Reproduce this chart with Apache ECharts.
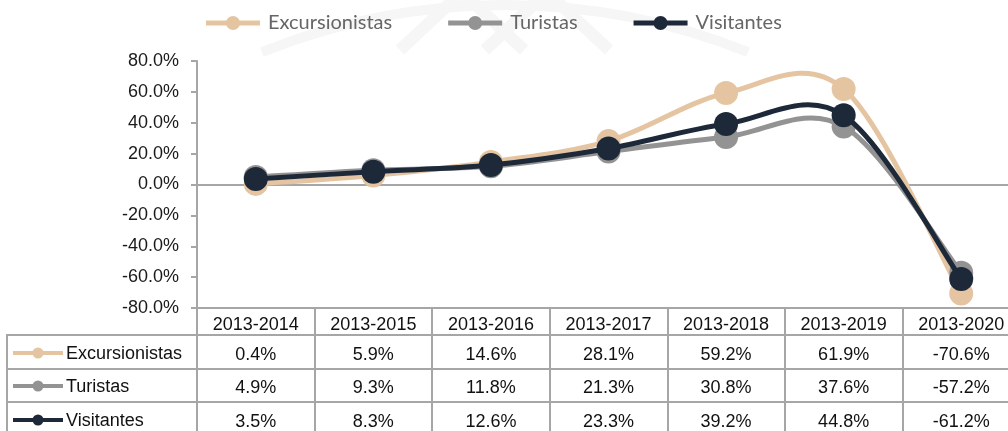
<!DOCTYPE html>
<html>
<head>
<meta charset="utf-8">
<script src="https://cdn.jsdelivr.net/npm/echarts@6/dist/echarts.min.js"></script>
<style>
html,body{margin:0;padding:0;background:#fff;}
#c{width:1008px;height:431px;}
</style>
</head>
<body>
<div id="c"></div>
<script>
const categories = ['2013-2014','2013-2015','2013-2016','2013-2017','2013-2018','2013-2019','2013-2020'];
const excursionistas = [0.4, 5.9, 14.6, 28.1, 59.2, 61.9, -70.6];
const turistas = [4.9, 9.3, 11.8, 21.3, 30.8, 37.6, -57.2];
const visitantes = [3.5, 8.3, 12.6, 23.3, 39.2, 44.8, -61.2];
const yTicks = [-80, -60, -40, -20, 0, 20, 40, 60, 80];

const names = ['Excursionistas', 'Turistas', 'Visitantes'];
const colors = ['#e5c5a1', '#939393', '#1d2939'];
const seriesData = [excursionistas, turistas, visitantes];

const GRID_LEFT = 197, GRID_TOP = 61, GRID_BOTTOM_Y = 308;
const GRAY = '#a6a6a6';
const FONT = '"Liberation Sans", Arial, sans-serif';

const chart = echarts.init(document.getElementById('c'), null, {renderer: 'canvas'});

function fmt(v) { return v.toFixed(1) + '%'; }

const rowMargins = [47, 80, 114];

const xAxes = [
  {
    type: 'category', data: categories, position: 'bottom', gridIndex: 0,
    axisLine: {show: true, onZero: false, lineStyle: {color: GRAY, width: 2}},
    axisTick: {show: true, inside: false, length: 130, lineStyle: {color: GRAY, width: 2}},
    axisLabel: {show: true, interval: 0, margin: 17, verticalAlign: 'middle', color: '#111', fontSize: 18, fontFamily: FONT},
    splitLine: {show: false}
  },
  {
    type: 'category', data: categories, position: 'bottom', gridIndex: 0,
    axisLine: {show: true, onZero: true, lineStyle: {color: GRAY, width: 2}},
    axisTick: {show: false}, axisLabel: {show: false}, splitLine: {show: false}
  }
];
seriesData.forEach((arr, k) => {
  xAxes.push({
    type: 'category', data: categories, position: 'bottom', gridIndex: 0,
    axisLine: {show: false, onZero: false}, axisTick: {show: false}, splitLine: {show: false},
    axisLabel: {
      show: true, interval: 0, margin: rowMargins[k], verticalAlign: 'middle',
      color: '#111', fontSize: 18, fontFamily: FONT,
      formatter: (v, i) => fmt(arr[i])
    }
  });
});

const graphics = [];
// faint watermark near the top
const WM = '#f6f6f6';
graphics.push({type: 'arc', shape: {cx: 505, cy: 655, r: 650, startAngle: Math.PI * 1.378, endAngle: Math.PI * 1.622}, style: {stroke: WM, lineWidth: 10, fill: null}, silent: true, z: -10});
graphics.push({type: 'polyline', shape: {points: [[400, 50], [462, -8], [524, 50]]}, style: {stroke: WM, lineWidth: 12, fill: null}, silent: true, z: -10});
graphics.push({type: 'polyline', shape: {points: [[485, 50], [547, -8], [609, 50]]}, style: {stroke: WM, lineWidth: 12, fill: null}, silent: true, z: -10});
// table horizontal lines
[335, 369, 402].forEach(y => {
  graphics.push({type: 'line', shape: {x1: 6, y1: y, x2: 1008, y2: y}, style: {stroke: GRAY, lineWidth: 2}, silent: true});
});
graphics.push({type: 'line', shape: {x1: 7, y1: 335, x2: 7, y2: 431}, style: {stroke: GRAY, lineWidth: 2}, silent: true});
// row keys
const rowCenters = [353, 386, 420];
names.forEach((n, k) => {
  const cy = rowCenters[k];
  graphics.push({type: 'line', shape: {x1: 13, y1: cy, x2: 63, y2: cy}, style: {stroke: colors[k], lineWidth: 4}, silent: true});
  graphics.push({type: 'circle', shape: {cx: 38, cy: cy, r: 5.5}, style: {fill: colors[k]}, silent: true});
  graphics.push({type: 'text', x: 66, y: cy + 1, style: {text: n, fill: '#111', fontSize: 18, fontFamily: FONT, verticalAlign: 'middle', align: 'left'}, silent: true});
});

// legend icon: thick line with circle
const legendIcon = 'path://M0,4.5 L54,4.5 L54,9.5 L0,9.5 Z M20,7 A7,7 0 1,1 34,7 A7,7 0 1,1 20,7 Z';

function makeRender(arr) {
  return function (params, api) {
    const i = params.dataIndex;
    const n = arr.length;
    const P = k => api.coord([Math.max(0, Math.min(n - 1, k)), arr[Math.max(0, Math.min(n - 1, k))]]);
    const color = api.visual('color');
    const children = [];
    if (i < n - 1) {
      const p0 = P(i - 1), p1 = P(i), p2 = P(i + 1), p3 = P(i + 2);
      const c1 = [p1[0] + (p2[0] - p0[0]) / 6, p1[1] + (p2[1] - p0[1]) / 6];
      const c2 = [p2[0] - (p3[0] - p1[0]) / 6, p2[1] - (p3[1] - p1[1]) / 6];
      children.push({
        type: 'bezierCurve',
        shape: {x1: p1[0], y1: p1[1], cpx1: c1[0], cpy1: c1[1], cpx2: c2[0], cpy2: c2[1], x2: p2[0], y2: p2[1]},
        style: {stroke: color, lineWidth: 5, fill: null, lineCap: 'round'}
      });
    }
    if (i > 0) {
      const q = P(i - 1);
      children.push({type: 'circle', shape: {cx: q[0], cy: q[1], r: 12}, style: {fill: color}});
    }
    if (i === n - 1) {
      const q = P(i);
      children.push({type: 'circle', shape: {cx: q[0], cy: q[1], r: 12}, style: {fill: color}});
    }
    return {type: 'group', children: children};
  };
}

const option = {
  animation: false,
  backgroundColor: '#fff',
  grid: {left: GRID_LEFT, top: GRID_TOP, right: -12, bottom: 431 - GRID_BOTTOM_Y, containLabel: false, outerBoundsMode: 'none'},
  legend: {
    left: 201, top: 8, itemWidth: 54, itemHeight: 14, itemGap: 56,
    textStyle: {fontFamily: 'Lato, "Open Sans", sans-serif', fontSize: 20, color: '#666666', padding: [0, 0, 0, 3]},
    data: names.map(n => ({name: n, icon: legendIcon}))
  },
  xAxis: xAxes,
  yAxis: {
    type: 'value', min: -80, max: 80, interval: 20,
    axisLine: {show: true, lineStyle: {color: GRAY, width: 2}},
    axisTick: {show: true, inside: false, length: 6, lineStyle: {color: GRAY, width: 2}},
    axisLabel: {margin: 18, color: '#1a1a1a', fontSize: 18, fontFamily: FONT, formatter: v => yTicks.indexOf(v) >= 0 ? fmt(v) : ''},
    splitLine: {show: false}
  },
  series: names.map((n, k) => ({
    name: n, type: 'custom', xAxisIndex: 0, yAxisIndex: 0,
    z: 2 + k,
    data: seriesData[k].map((v, i) => [i, v]),
    encode: {x: 0, y: 1},
    clip: false,
    itemStyle: {color: colors[k]},
    renderItem: makeRender(seriesData[k]),
    emphasis: {disabled: true}
  })),
  graphic: graphics
};
chart.setOption(option);
</script>
</body>
</html>
